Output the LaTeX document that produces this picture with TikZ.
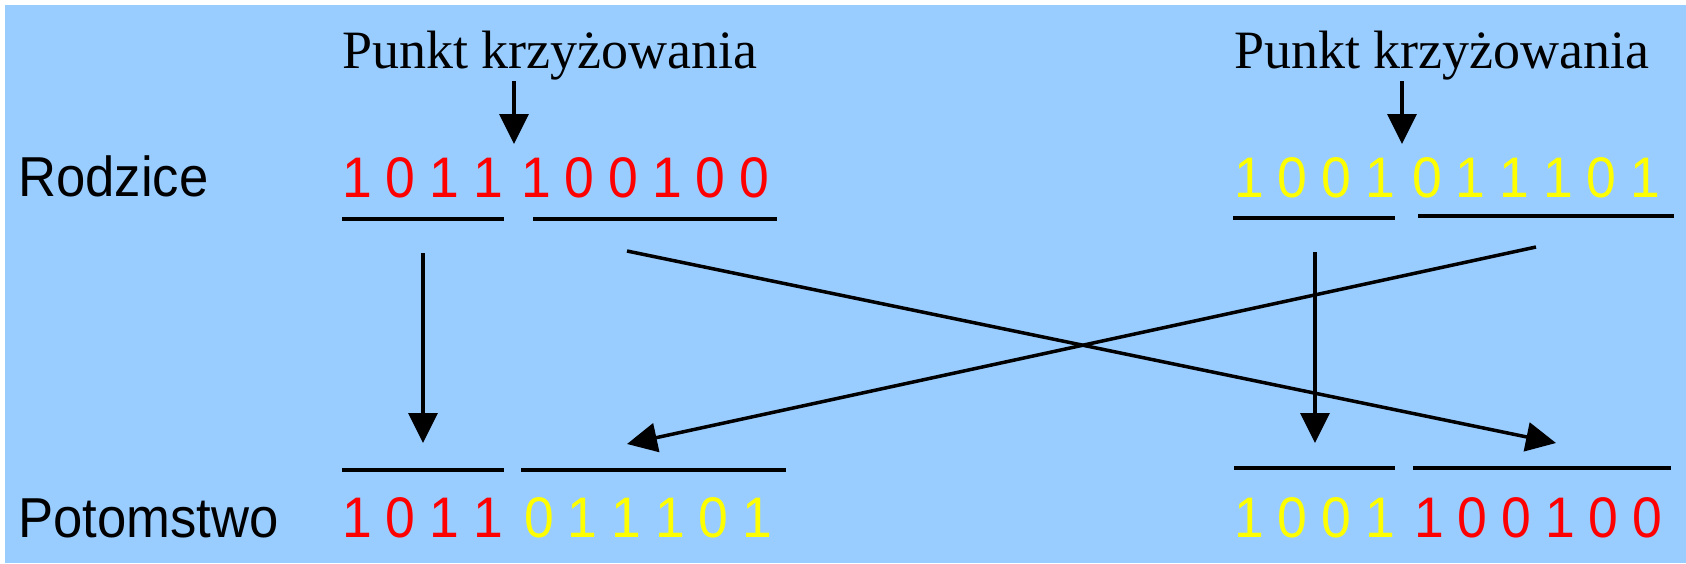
\documentclass[tikz,border=0pt]{standalone}
\usepackage{fontspec}
\setmainfont{Liberation Serif}
\newfontfamily\arialfont[FakeStretch=0.935, WordSpace=0.935]{Liberation Sans}
\usetikzlibrary{arrows.meta}
\definecolor{bgblue}{HTML}{99CCFF}
\definecolor{bitred}{HTML}{FF0000}
\definecolor{bityellow}{HTML}{FFFF00}

\begin{document}
\begin{tikzpicture}[x=1pt, y=-1pt,
rowlabel/.style={anchor=base west, inner sep=0pt, font=\arialfont\fontsize{56.3}{64}\selectfont},
bits/.style={anchor=base west, inner sep=0pt, font=\arialfont\fontsize{57.2}{64}\selectfont},
cutlabel/.style={anchor=base west, inner sep=0pt, font=\fontsize{54}{62}\selectfont},
bar/.style={line width=4pt},
arrow/.style={-{Triangle[width=29pt,length=30pt]}, line width=3.5pt}
]
\useasboundingbox (0,0) rectangle (1686,563);
\fill[bgblue] (5,5) rectangle (1686,563);

% labels
\node[rowlabel] (parents) at (18,196) {Rodzice};
\node[rowlabel] (children) at (18,537) {Potomstwo};
\node[cutlabel] (cut1) at (342,68) {Punkt krzyżowania};
\node[cutlabel] (cut2) at (1234,68) {Punkt krzyżowania};

% parents
\node[bits, bitred] (p1a) at (342,197) {1 0 1 1};
\node[bits, bitred] (p1b) at (521,197) {1 0 0 1 0 0};
\node[bits, bityellow] (p2a) at (1234,197) {1 0 0 1};
\node[bits, bityellow] (p2b) at (1412,197) {0 1 1 1 0 1};

% offspring
\node[bits, bitred] (c1a) at (342,537) {1 0 1 1};
\node[bits, bityellow] (c1b) at (524,537) {0 1 1 1 0 1};
\node[bits, bityellow] (c2a) at (1234,537) {1 0 0 1};
\node[bits, bitred] (c2b) at (1414,537) {1 0 0 1 0 0};

% underlines
\draw[bar] (342,219) -- (504,219);
\draw[bar] (533,219) -- (777,219);
\draw[bar] (1233,218) -- (1395,218);
\draw[bar] (1418,216) -- (1674,216);
\draw[bar] (342,470) -- (504,470);
\draw[bar] (521,470) -- (786,470);
\draw[bar] (1234,468) -- (1395,468);
\draw[bar] (1413,468) -- (1671,468);

% arrow ends
\coordinate (cut1top) at (514,81);
\coordinate (cut1tip) at (514,144);
\coordinate (cut2top) at (1402,81);
\coordinate (cut2tip) at (1402,144);
\coordinate (p1aout) at (423,253);
\coordinate (p1bout) at (627,251);
\coordinate (p2aout) at (1315,252);
\coordinate (p2bout) at (1536,247);
\coordinate (c1ain) at (423,443);
\coordinate (c1bin) at (627,444);
\coordinate (c2ain) at (1315,443);
\coordinate (c2bin) at (1556,443);

\draw[arrow] (cut1top) -- (cut1tip);
\draw[arrow] (cut2top) -- (cut2tip);
\draw[arrow] (p1aout) -- (c1ain);
\draw[arrow] (p1bout) -- (c2bin);
\draw[arrow] (p2aout) -- (c2ain);
\draw[arrow] (p2bout) -- (c1bin);
\end{tikzpicture}
\end{document}
